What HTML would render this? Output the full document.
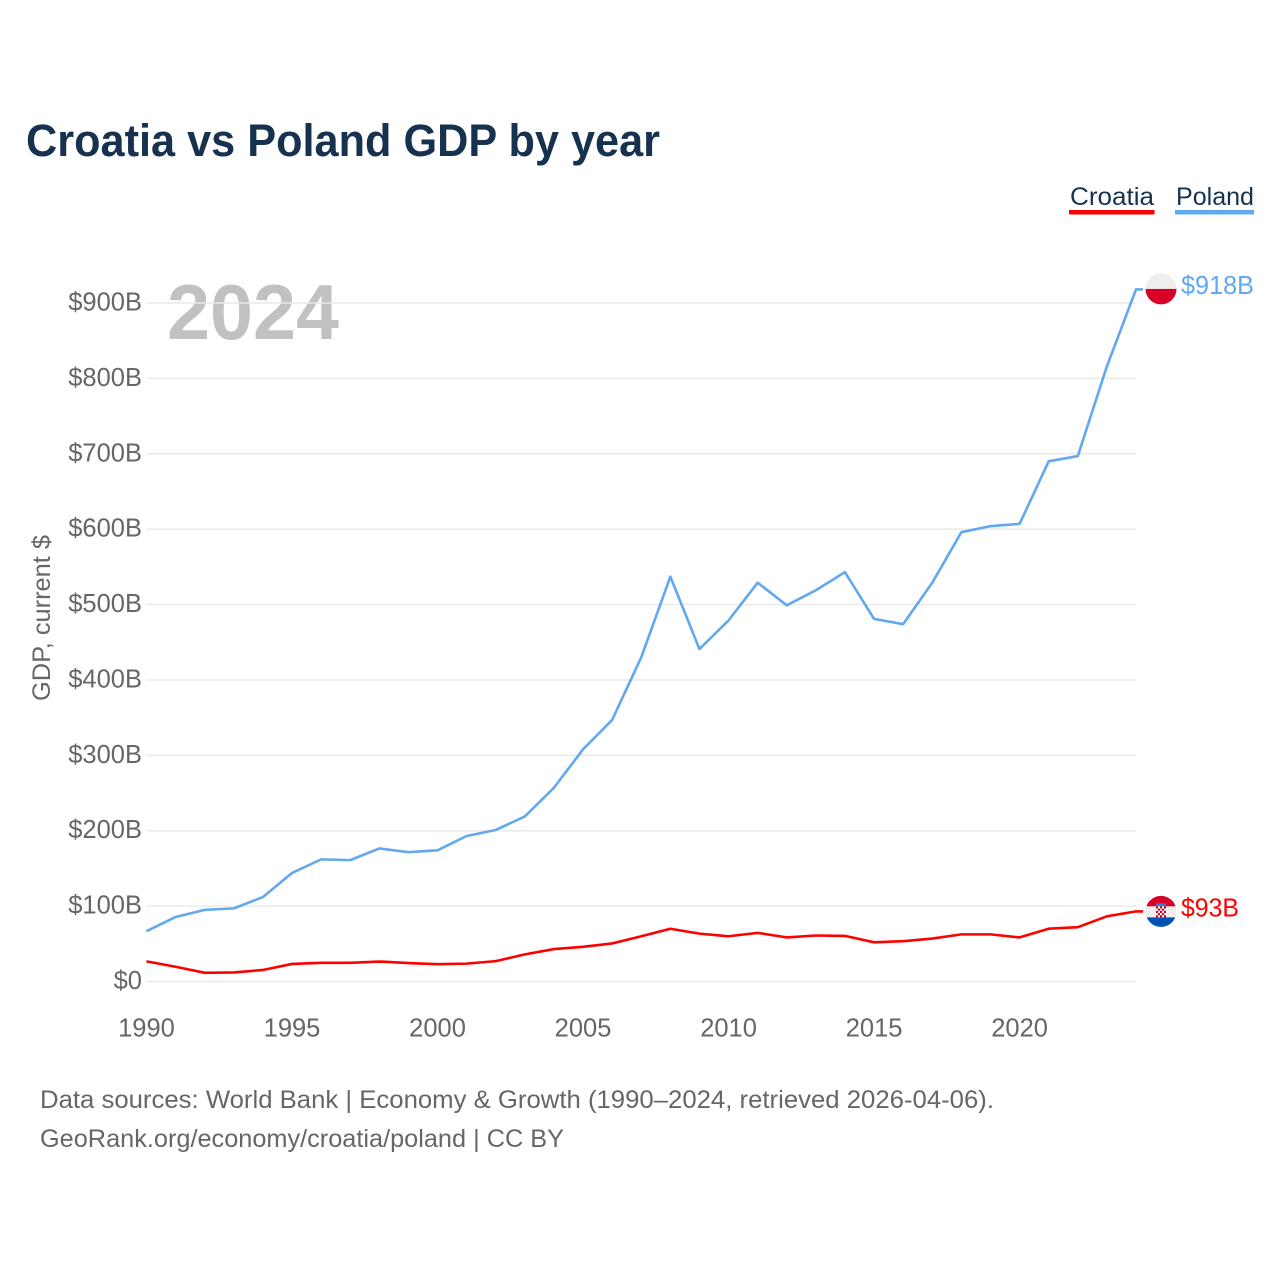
<!DOCTYPE html>
<html lang="en">
<head>
<meta charset="utf-8">
<title>Croatia vs Poland GDP by year</title>
<style>
html,body{margin:0;padding:0;background:#fff;}
svg{display:block;font-family:"Liberation Sans",sans-serif;}
</style>
</head>
<body>
<svg id="chart" width="1280" height="1280" viewBox="0 0 1280 1280" xmlns="http://www.w3.org/2000/svg">
<rect x="0" y="0" width="1280" height="1280" fill="#ffffff"/>
<text x="26" y="156" font-size="45" font-weight="700" fill="#17324f" textLength="634" lengthAdjust="spacingAndGlyphs">Croatia vs Poland GDP by year</text>
<g>
<g>
<text x="1070" y="205" font-size="25" fill="#17324f" textLength="84" lengthAdjust="spacingAndGlyphs">Croatia</text>
<rect x="1069" y="210" width="85.5" height="4.5" fill="#ff0000"/>
</g>
<g>
<text x="1176" y="205" font-size="25" fill="#17324f" textLength="78" lengthAdjust="spacingAndGlyphs">Poland</text>
<rect x="1175" y="210" width="79" height="4.5" fill="#62a8ee"/>
</g>
</g>
<text x="167" y="339" font-size="78" font-weight="700" fill="#c1c1c1" textLength="172" lengthAdjust="spacingAndGlyphs">2024</text>
<g id="grid"></g>
<g id="y-axis"></g>
<g id="x-axis"></g>
<text transform="translate(50,618) rotate(-90)" text-anchor="middle" font-size="25" fill="#666666" textLength="166" lengthAdjust="spacingAndGlyphs">GDP, current $</text>
<g id="series"></g>
<g id="end-markers"></g>
<g>
<text x="40" y="1108" font-size="25" fill="#666666" textLength="954" lengthAdjust="spacingAndGlyphs">Data sources: World Bank | Economy &amp; Growth (1990–2024, retrieved 2026-04-06).</text>
<text x="40" y="1147" font-size="25" fill="#666666" textLength="524" lengthAdjust="spacingAndGlyphs">GeoRank.org/economy/croatia/poland | CC BY</text>
</g>
</svg>
<script>
const years = [1990,1991,1992,1993,1994,1995,1996,1997,1998,1999,2000,2001,2002,2003,2004,2005,2006,2007,2008,2009,2010,2011,2012,2013,2014,2015,2016,2017,2018,2019,2020,2021,2022,2023,2024];
const polandGdp = [66.7,85.6,95,97,112,144,162,161,176.5,171.5,174,193,201,219,257,308,347,430,537,441,479,529,499,519,543,481,474,529,596,604,607,690,697,816,918];
const croatiaGdp = [26.7,19.6,11.5,12,15.3,23.3,24.8,24.8,26.5,24.5,23,23.7,27,36,43,46,50.5,60,70,63.5,60,64.5,58.5,61,60.5,52,53.5,57,62.5,62.5,58.5,70,72,86.5,93];
const yTickValues = [0,100,200,300,400,500,600,700,800,900];
const yTickLabels = ["$0","$100B","$200B","$300B","$400B","$500B","$600B","$700B","$800B","$900B"];
const xTickValues = [1990,1995,2000,2005,2010,2015,2020];
const xTickLabels = ["1990","1995","2000","2005","2010","2015","2020"];

const SVG_NS = "http://www.w3.org/2000/svg";
function xScale(year){ return 146.5 + (year - 1990) * (1136 - 146.5) / 34; }
function yScale(v){ return 981.5 - v * (981.5 - 303) / 900; }
function make(parent, tag, attrs, text){
  const el = document.createElementNS(SVG_NS, tag);
  for (const k in attrs) el.setAttribute(k, attrs[k]);
  if (text !== undefined) el.textContent = text;
  parent.appendChild(el);
  return el;
}

const grid = document.getElementById("grid");
const yAxis = document.getElementById("y-axis");
yTickValues.forEach(function(v, i){
  const line = make(grid, "line", {x1:146.5, x2:1136, y1:yScale(v), y2:yScale(v), stroke:"#e9e9e9", "stroke-width":1.5});
  
  
  const label = make(yAxis, "text", {x:142, y:yScale(v)+7.5, "text-anchor":"end", "font-size":25.5, fill:"#666666"}, yTickLabels[i]);
  
  
});

const xAxis = document.getElementById("x-axis");
xTickValues.forEach(function(y, i){
  const label = make(xAxis, "text", {x:xScale(y), y:1036.5, "text-anchor":"middle", "font-size":25.5, fill:"#666666"}, xTickLabels[i]);
  
  
});

const seriesGroup = document.getElementById("series");
const markers = document.getElementById("end-markers");

function drawSeries(values, color){
  const pts = values.map(function(v, i){ return xScale(years[i]).toFixed(2) + "," + yScale(v).toFixed(2); });
  const lastX = xScale(years[years.length - 1]);
  const lastY = yScale(values[values.length - 1]);
  pts.push((lastX + 7) + "," + lastY.toFixed(2));
  return make(seriesGroup, "polyline", {points:pts.join(" "), fill:"none", stroke:color, "stroke-width":2.6, "stroke-linejoin":"round"});
}

const polandLine = drawSeries(polandGdp, "#62a8ee");


const croatiaLine = drawSeries(croatiaGdp, "#ff0000");



function formatValue(v){ return "$" + Math.round(v) + "B"; }

const defs = make(markers, "defs", {});
const clipP = make(defs, "clipPath", {id:"clip-poland"});
const clipC = make(defs, "clipPath", {id:"clip-croatia"});
const cx = 1161;

// Poland marker
const py = yScale(polandGdp[polandGdp.length - 1]) - 0.5;
make(clipP, "circle", {cx:cx, cy:py, r:15.5});
const flagP = make(markers, "g", {"clip-path":"url(#clip-poland)"});


make(flagP, "rect", {x:cx-16, y:py-16, width:32, height:16, fill:"#eeeeee"});
make(flagP, "rect", {x:cx-16, y:py, width:32, height:16, fill:"#d80027"});
const labelP = make(markers, "text", {x:1181, y:py+5, "font-size":25.5, fill:"#62a8ee", textLength:73, lengthAdjust:"spacingAndGlyphs"}, formatValue(polandGdp[polandGdp.length - 1]));



// Croatia marker
const cy = yScale(croatiaGdp[croatiaGdp.length - 1]);
make(clipC, "circle", {cx:cx, cy:cy, r:15.5});
const flagC = make(markers, "g", {"clip-path":"url(#clip-croatia)"});


make(flagC, "rect", {x:cx-16, y:cy-16, width:32, height:11, fill:"#d80027"});
make(flagC, "rect", {x:cx-16, y:cy-5, width:32, height:11, fill:"#eeeeee"});
make(flagC, "rect", {x:cx-16, y:cy+6, width:32, height:10, fill:"#0052b4"});
make(flagC, "rect", {x:cx-5, y:cy-8, width:10, height:3, fill:"#3f7fc4"});
for (let r = 0; r < 5; r++) {
  for (let c = 0; c < 5; c++) {
    make(flagC, "rect", {x:cx-5+c*2, y:cy-5+r*2.2, width:2, height:2.2, fill:((r+c)%2===0) ? "#d80027" : "#f4f4f4"});
  }
}
const labelC = make(markers, "text", {x:1181, y:cy+5, "font-size":25.5, fill:"#ff0000", textLength:58, lengthAdjust:"spacingAndGlyphs"}, formatValue(croatiaGdp[croatiaGdp.length - 1]));


</script>
</body>
</html>
